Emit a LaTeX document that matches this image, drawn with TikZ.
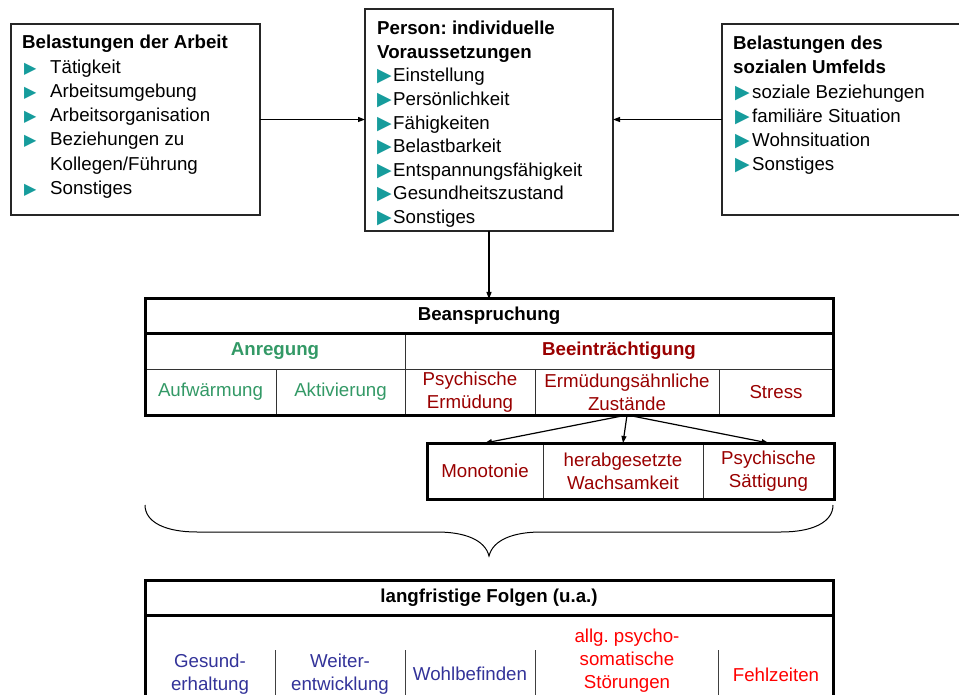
\documentclass[tikz,border=0pt]{standalone}
\usepackage{fontspec}
\setmainfont{Liberation Sans}
\newfontfamily\symfont{DejaVu Sans}
\usetikzlibrary{arrows.meta}
\definecolor{BulletTeal}{HTML}{169C9C}
\definecolor{StimGreen}{HTML}{339966}
\definecolor{ImpairRed}{HTML}{990000}
\definecolor{GoodBlue}{HTML}{333399}
\definecolor{BadRed}{HTML}{FF0000}
\frenchspacing
% teal pointer in front of a list entry: #1 indent, #2 room for the pointer, #3 size
\newcommand{\tri}[3]{\hspace*{#1}\makebox[#2][l]{\symfont\fontsize{#3}{#3}\selectfont\color{BulletTeal}▶}}

\begin{document}
\begin{tikzpicture}[
	x=1pt, y=-1pt, % one unit is one pixel of the page
	% Style for the three boxes on top
	factor box/.style={
		draw=black!85,
		line width=1.2pt,
		inner sep=0pt,
		outer sep=0pt
	},
	% Style for the lists inside these boxes
	list text/.style={
		anchor=north west,
		align=left,
		inner sep=0pt
	},
	% Style for the cells of the tables
	cell/.style={
		draw=black!80,
		line width=1pt,
		inner sep=0pt,
		outer sep=0pt,
		align=center,
		font=\fontsize{18.7}{23}\selectfont
	},
	% Style for text standing free
	free text/.style={
		inner sep=0pt,
		align=center,
		font=\fontsize{18.7}{23}\selectfont
	},
	% Style for the heavy table frames
	thick frame/.style={
		draw=black,
		line width=3pt
	},
	% Style for the thin table rules
	thin rule/.style={
		draw=black!75,
		line width=1pt
	},
	% Style for the connecting arrows
	arrow/.style={
		draw=black,
		line width=1.2pt,
		-{Triangle[length=7pt,width=5pt]}
	}
	]
	
	\useasboundingbox (0,0) rectangle (959,695);
	
	% 1. Boxes on top (the right one runs off the page)
	\node[factor box, minimum width=249pt, minimum height=191pt] (arbeit) at (135.5,119.5) {};
	\node[factor box, minimum width=248pt, minimum height=222pt] (person) at (489,120) {};
	\node[factor box, minimum width=258pt, minimum height=191pt] (umfeld) at (851,119.5) {};
	
	% Lists of the boxes
	\node[list text, font=\fontsize{18.7}{24.3}\selectfont] (arbeit text) at (22,35) {%
		\textbf{Belastungen der Arbeit}\\
		\tri{2pt}{26pt}{16}Tätigkeit\\
		\tri{2pt}{26pt}{16}Arbeitsumgebung\\
		\tri{2pt}{26pt}{16}Arbeitsorganisation\\
		\tri{2pt}{26pt}{16}Beziehungen zu\\
		\hspace*{28pt}Kollegen/Führung\\
		\tri{2pt}{26pt}{16}Sonstiges};
	\node[list text, font=\fontsize{18.7}{23.6}\selectfont] (person text) at (377,21) {%
		\textbf{Person: individuelle}\\
		\textbf{Voraussetzungen}\\
		\tri{0pt}{16pt}{19}Einstellung\\
		\tri{0pt}{16pt}{19}Persönlichkeit\\
		\tri{0pt}{16pt}{19}Fähigkeiten\\
		\tri{0pt}{16pt}{19}Belastbarkeit\\
		\tri{0pt}{16pt}{19}Entspannungsfähigkeit\\
		\tri{0pt}{16pt}{19}Gesundheitszustand\\
		\tri{0pt}{16pt}{19}Sonstiges};
	\node[list text, font=\fontsize{18.7}{24.2}\selectfont] (umfeld text) at (733,36) {%
		\textbf{Belastungen des}\\
		\textbf{sozialen Umfelds}\\
		\tri{2pt}{17pt}{19}soziale Beziehungen\\
		\tri{2pt}{17pt}{19}familiäre Situation\\
		\tri{2pt}{17pt}{19}Wohnsituation\\
		\tri{2pt}{17pt}{19}Sonstiges};
	
	% 2. Table Beanspruchung
	\node[cell, minimum width=688pt, minimum height=34pt] (bean) at (489,316) {\textbf{Beanspruchung}};
	\node[cell, minimum width=260pt, minimum height=36pt, text=StimGreen] (anregung) at (275,351) {\textbf{Anregung}};
	\node[cell, minimum width=428pt, minimum height=36pt, text=ImpairRed] (beein) at (619,351) {\textbf{Beeinträchtigung}};
	\node[cell, minimum width=131pt, minimum height=46pt, text=StimGreen] (aufw) at (210.5,392) {Aufwärmung};
	\node[cell, minimum width=129pt, minimum height=46pt, text=StimGreen] (aktiv) at (340.5,392) {Aktivierung};
	\node[cell, minimum width=130pt, minimum height=46pt, text=ImpairRed] (ermued) at (470,392) {Psychische\\Ermüdung};
	\node[cell, minimum width=184pt, minimum height=46pt, text=ImpairRed] (zust) at (627,392) {Ermüdungsähnliche\\Zustände};
	\node[cell, minimum width=114pt, minimum height=46pt, text=ImpairRed] (stress) at (776,392) {Stress};
	\draw[thick frame] (bean.north west) rectangle (stress.south east);
	\draw[thick frame] (bean.south west) -- (bean.south east);
	
	% Table of the states like fatigue
	\node[cell, minimum width=116pt, minimum height=56pt, text=ImpairRed] (mono) at (485,471) {Monotonie};
	\node[cell, minimum width=160pt, minimum height=56pt, text=ImpairRed] (wach) at (623,471) {herabgesetzte\\Wachsamkeit};
	\node[cell, minimum width=131pt, minimum height=56pt, text=ImpairRed] (saett) at (768.5,471) {Psychische\\Sättigung};
	\draw[thick frame] (mono.north west) rectangle (saett.south east);
	
	% 3. Table of the long term results
	\node[cell, minimum width=688pt, minimum height=35pt] (folgen) at (489,597.5) {\textbf{langfristige Folgen (u.a.)}};
	\draw[thick frame] (folgen.north west) rectangle (folgen.south east);
	\draw[thick frame] (folgen.south west) -- ++(0,90);
	\draw[thick frame] (folgen.south east) -- ++(0,90);
	\node[free text, text=GoodBlue] (gesund) at (210,674) {Gesund-\\erhaltung};
	\node[free text, text=GoodBlue] (weiter) at (340,674) {Weiter-\\entwicklung};
	\node[free text, text=GoodBlue] (wohl) at (470,674) {Wohlbefinden};
	\node[free text, text=BadRed] (stoer) at (627,661) {allg. psycho-\\somatische\\Störungen};
	\node[free text, text=BadRed] (fehl) at (776,675) {Fehlzeiten};
	\draw[thin rule] (275,650) -- (275,700);
	\draw[thin rule] (405,650) -- (405,700);
	\draw[thin rule] (535,650) -- (535,700);
	\draw[thin rule] (718,650) -- (718,700);
	
	% 4. Brace between the tables
	\draw[line width=1pt] (145,505) .. controls (145,522) and (165,532) .. (197,532)
		-- (437,532) .. controls (465,532) and (485,540) .. (489,556)
		.. controls (493,540) and (513,532) .. (541,532)
		-- (781,532) .. controls (813,532) and (833,522) .. (833,505);
	
	% 5. Arrows
	\draw[arrow] (arbeit.east) -- (arbeit.east -| person.west);
	\draw[arrow] (umfeld.west) -- (umfeld.west -| person.east);
	\draw[arrow] (person.south) -- (bean.north);
	\draw[arrow] (zust.south) -- (mono.north);
	\draw[arrow] (zust.south) -- (wach.north);
	\draw[arrow] (zust.south) -- (saett.north);
	
\end{tikzpicture}
\end{document}
